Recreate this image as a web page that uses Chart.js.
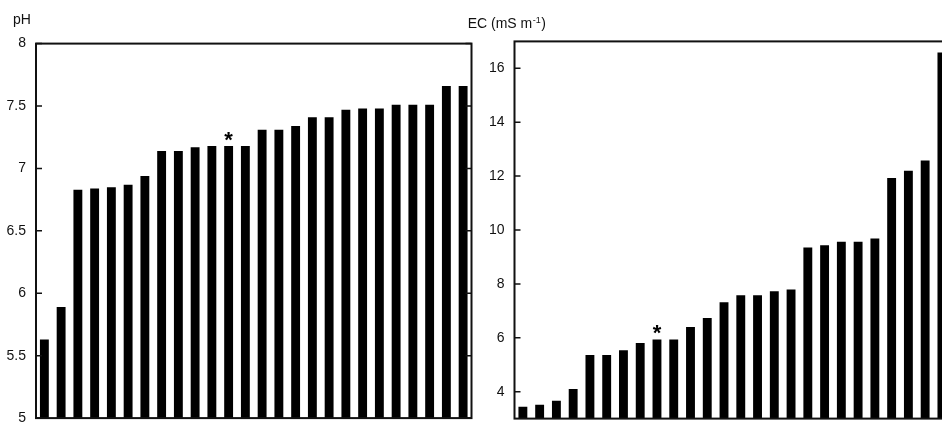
<!DOCTYPE html>
<html>
<head>
<meta charset="utf-8">
<script src="https://cdn.jsdelivr.net/npm/chart.js@4/dist/chart.umd.min.js"></script>
<style>
  html, body { margin: 0; padding: 0; background: #fff; overflow: hidden; }
  #wrap { position: relative; width: 942px; height: 423px; overflow: hidden; }
  #phChart { position: absolute; left: 0; top: 0; }
  #ecChart { position: absolute; left: 460px; top: 0; }
</style>
</head>
<body>
<div id="wrap">
  <canvas id="phChart" width="480" height="440"></canvas>
  <canvas id="ecChart" width="500" height="440"></canvas>
</div>
<script>
// samples, sorted low -> high in each panel
var samples = ["1", "2", "3", "4", "5", "6", "7", "8", "9", "10", "11", "12", "13",
               "14", "15", "16", "17", "18", "19", "20", "21", "22", "23", "24", "25", "26"];

// pH panel
var phValues = [5.63, 5.89, 6.83, 6.84, 6.85, 6.87, 6.94, 7.14, 7.14, 7.17, 7.18, 7.18, 7.18,
                7.31, 7.31, 7.34, 7.41, 7.41, 7.47, 7.48, 7.48, 7.51, 7.51, 7.51, 7.66, 7.66];
var phTicks = [5, 5.5, 6, 6.5, 7, 7.5, 8];
var phMarked = 11;

// EC panel
var ecValues = [3.44, 3.51, 3.66, 4.10, 5.36, 5.36, 5.54, 5.81, 5.94, 5.94, 6.40, 6.73, 7.32,
                7.58, 7.58, 7.73, 7.79, 9.35, 9.43, 9.56, 9.56, 9.68, 11.93, 12.20, 12.58, 16.59];
var ecTicks = [4, 6, 8, 10, 12, 14, 16];
var ecMarked = 8;

var FONT = "'Liberation Sans', Arial, sans-serif";
var INK = "#111";

// frame, inward tick marks, asterisk and axis title
var framePlugin = {
  id: "frame",
  afterDraw: function(chart, args, opts) {
    var a = chart.chartArea;
    var ctx = chart.ctx;
    var y = chart.scales.y;
    ctx.save();
    ctx.strokeStyle = INK;
    ctx.lineWidth = 2;
    ctx.strokeRect(a.left, a.top, a.right - a.left, a.bottom - a.top);

    ctx.lineWidth = 1.5;
    y.ticks.forEach(function(t){
      var py = y.getPixelForValue(t.value);
      ctx.beginPath();
      ctx.moveTo(a.left, py);
      ctx.lineTo(a.left + 6, py);
      ctx.moveTo(a.right, py);
      ctx.lineTo(a.right - 6, py);
      ctx.stroke();
    });

    var bar = chart.getDatasetMeta(0).data[opts.marked];
    ctx.fillStyle = "#000";
    ctx.font = "bold 22px " + FONT;
    ctx.textAlign = "center";
    ctx.textBaseline = "alphabetic";
    ctx.fillText("*", bar.x, bar.y + 1);

    ctx.fillStyle = INK;
    ctx.textAlign = "left";
    ctx.font = "14px " + FONT;
    ctx.fillText(opts.title, opts.titleX, opts.titleY);
    if (opts.sup) {
      var w = ctx.measureText(opts.title).width;
      ctx.font = "9px " + FONT;
      ctx.fillText(opts.sup, opts.titleX + w + 0.5, opts.titleY - 5);
      var w2 = ctx.measureText(opts.sup).width;
      ctx.font = "14px " + FONT;
      ctx.fillText(opts.after, opts.titleX + w + w2 + 1, opts.titleY);
    }
    ctx.restore();
  }
};

function makeChart(id, values, ticks, min, max, axisWidth, padding, frame){
  var ctx = document.getElementById(id);
  return new Chart(ctx, {
    type: "bar",
    data: {
      labels: samples,
      datasets: [{
        data: values,
        backgroundColor: "#000",
        borderWidth: 0,
        barPercentage: 0.53,
        categoryPercentage: 1
      }]
    },
    options: {
      responsive: false,
      animation: false,
      layout: { padding: padding },
      plugins: {
        legend: { display: false },
        tooltip: { enabled: false },
        frame: frame
      },
      scales: {
        x: { display: false },
        y: {
          min: min,
          max: max,
          afterBuildTicks: function(s){
            s.ticks = ticks.map(function(v){ return { value: v }; });
          },
          afterFit: function(s){ s.width = axisWidth; },
          grid: { display: false, drawTicks: false },
          border: { display: false },
          ticks: {
            padding: 10,
            color: INK,
            font: { size: 14, family: FONT },
            callback: function(v){ return String(v); }
          }
        }
      }
    },
    plugins: [framePlugin]
  });
}

makeChart("phChart", phValues, phTicks, 5, 8, 36,
  { top: 43.6, right: 8.5, bottom: 21.9, left: 0 },
  { marked: phMarked, title: "pH", titleX: 13, titleY: 23.5 });

makeChart("ecChart", ecValues, ecTicks, 3, 17, 54.5,
  { top: 41.4, right: 9.7, bottom: 21.4, left: 0 },
  { marked: ecMarked, title: "EC (mS m", sup: "-1", after: ")", titleX: 7.7, titleY: 28.3 });
</script>
</body>
</html>
